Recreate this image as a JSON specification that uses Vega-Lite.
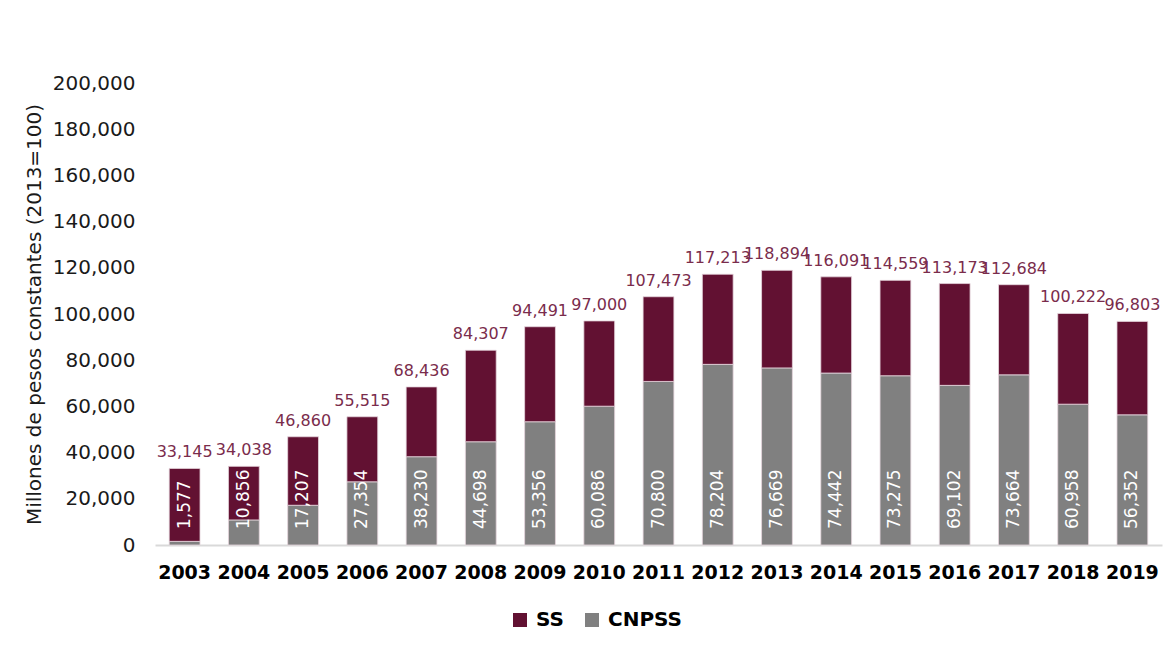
{
  "$schema": "https://vega.github.io/schema/vega-lite/v6.json",
  "width": 1007,
  "height": 462,
  "autosize": {"type": "none"},
  "padding": {"left": 155, "top": 83, "right": 12, "bottom": 113},
  "background": "white",
  "config": {
    "font": "DejaVu Sans",
    "view": {"stroke": null}
  },
  "data": {
    "values": [
      {"anio": "2003", "serie": "CNPSS", "valor": 1577},
      {"anio": "2004", "serie": "CNPSS", "valor": 10856},
      {"anio": "2005", "serie": "CNPSS", "valor": 17207},
      {"anio": "2006", "serie": "CNPSS", "valor": 27354},
      {"anio": "2007", "serie": "CNPSS", "valor": 38230},
      {"anio": "2008", "serie": "CNPSS", "valor": 44698},
      {"anio": "2009", "serie": "CNPSS", "valor": 53356},
      {"anio": "2010", "serie": "CNPSS", "valor": 60086},
      {"anio": "2011", "serie": "CNPSS", "valor": 70800},
      {"anio": "2012", "serie": "CNPSS", "valor": 78204},
      {"anio": "2013", "serie": "CNPSS", "valor": 76669},
      {"anio": "2014", "serie": "CNPSS", "valor": 74442},
      {"anio": "2015", "serie": "CNPSS", "valor": 73275},
      {"anio": "2016", "serie": "CNPSS", "valor": 69102},
      {"anio": "2017", "serie": "CNPSS", "valor": 73664},
      {"anio": "2018", "serie": "CNPSS", "valor": 60958},
      {"anio": "2019", "serie": "CNPSS", "valor": 56352},
      {"anio": "2003", "serie": "SS", "valor": 31568},
      {"anio": "2004", "serie": "SS", "valor": 23182},
      {"anio": "2005", "serie": "SS", "valor": 29653},
      {"anio": "2006", "serie": "SS", "valor": 28161},
      {"anio": "2007", "serie": "SS", "valor": 30206},
      {"anio": "2008", "serie": "SS", "valor": 39609},
      {"anio": "2009", "serie": "SS", "valor": 41135},
      {"anio": "2010", "serie": "SS", "valor": 36914},
      {"anio": "2011", "serie": "SS", "valor": 36673},
      {"anio": "2012", "serie": "SS", "valor": 39009},
      {"anio": "2013", "serie": "SS", "valor": 42225},
      {"anio": "2014", "serie": "SS", "valor": 41649},
      {"anio": "2015", "serie": "SS", "valor": 41284},
      {"anio": "2016", "serie": "SS", "valor": 44071},
      {"anio": "2017", "serie": "SS", "valor": 39020},
      {"anio": "2018", "serie": "SS", "valor": 39264},
      {"anio": "2019", "serie": "SS", "valor": 40451}
    ]
  },
  "encoding": {
    "x": {
      "field": "anio",
      "type": "nominal",
      "title": null,
      "scale": {"paddingInner": 0.48, "paddingOuter": 0.24},
      "axis": {
        "labelAngle": 0,
        "labelFont": "DejaVu Sans",
        "labelFontSize": 19,
        "labelFontWeight": "bold",
        "labelColor": "#000000",
        "labelPadding": 18,
        "ticks": false,
        "domainColor": "#d9d9d9",
        "domainWidth": 2
      }
    }
  },
  "layer": [
    {
      "mark": {"type": "bar", "stroke": "#e6d6dd", "strokeWidth": 0.8},
      "encoding": {
        "y": {
          "field": "valor",
          "type": "quantitative",
          "aggregate": "sum",
          "stack": "zero",
          "scale": {"domain": [0, 200000], "nice": false},
          "title": "Millones de pesos constantes (2013=100)",
          "axis": {
            "values": [0, 20000, 40000, 60000, 80000, 100000, 120000, 140000, 160000, 180000, 200000],
            "format": ",.0f",
            "grid": false,
            "domain": false,
            "ticks": false,
            "labelFontSize": 20,
            "labelColor": "#1a1a1a",
            "labelPadding": 20,
            "titleFontSize": 20,
            "titleFontWeight": "normal",
            "titleColor": "#1a1a1a",
            "titleX": -121,
            "titleY": 231,
            "titleAngle": 270,
            "titleAlign": "center",
            "titleBaseline": "middle"
          }
        },
        "color": {
          "field": "serie",
          "type": "nominal",
          "scale": {"domain": ["SS", "CNPSS"], "range": ["#621132", "#808080"]},
          "legend": {
            "title": null,
            "orient": "none",
            "direction": "horizontal",
            "legendX": 355,
            "legendY": 527,
            "symbolType": "square",
            "symbolSize": 196,
            "symbolStrokeWidth": 0,
            "labelFontSize": 20,
            "labelFontWeight": "bold",
            "labelColor": "#000000",
            "labelOffset": 6,
            "columnPadding": 18
          }
        },
        "order": {"field": "serie", "sort": "ascending"}
      }
    },
    {
      "transform": [{"filter": "datum.serie === 'CNPSS'"}],
      "mark": {
        "type": "text",
        "angle": 270,
        "align": "left",
        "baseline": "middle",
        "dx": 16,
        "color": "#ffffff",
        "fontSize": 17
      },
      "encoding": {
        "y": {"datum": 0, "type": "quantitative"},
        "text": {"field": "valor", "type": "quantitative", "format": ",.0f"}
      }
    },
    {
      "transform": [
        {"aggregate": [{"op": "sum", "field": "valor", "as": "total"}], "groupby": ["anio"]}
      ],
      "mark": {
        "type": "text",
        "align": "center",
        "baseline": "alphabetic",
        "dy": -11,
        "color": "#7a2c4c",
        "fontSize": 16
      },
      "encoding": {
        "y": {"field": "total", "type": "quantitative"},
        "text": {"field": "total", "type": "quantitative", "format": ",.0f"}
      }
    }
  ]
}
